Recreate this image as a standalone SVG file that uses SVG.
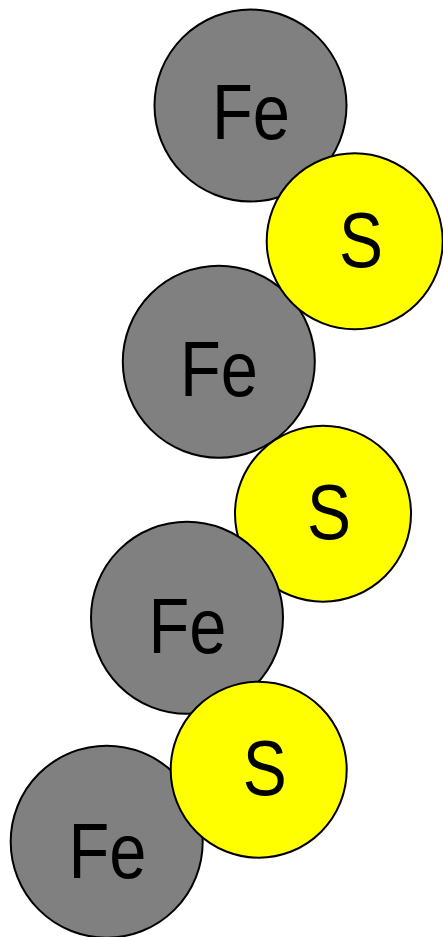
<svg xmlns="http://www.w3.org/2000/svg" width="443" height="937" viewBox="0 0 443 937">
<style>
.fe{fill:#808080;stroke:#000;stroke-width:2}
.s{fill:#ffff00;stroke:#000;stroke-width:2}
text{font-family:"Liberation Sans","DejaVu Sans",sans-serif;font-size:78px;fill:#000;text-anchor:middle}
</style>
<rect width="443" height="937" fill="#fff"/>
<g id="fe1"><circle class="fe" cx="250.5" cy="105.5" r="96"/><text x="251" y="139" textLength="78" lengthAdjust="spacingAndGlyphs">Fe</text></g>
<g id="fe2"><circle class="fe" cx="218.8" cy="361.7" r="96"/><text x="219" y="396" textLength="78" lengthAdjust="spacingAndGlyphs">Fe</text></g>
<g id="s1"><circle class="s" cx="354.7" cy="241.3" r="88"/><text x="361" y="267" textLength="44" lengthAdjust="spacingAndGlyphs">S</text></g>
<g id="s2"><circle class="s" cx="323" cy="513.7" r="88"/><text x="329" y="539" textLength="44" lengthAdjust="spacingAndGlyphs">S</text></g>
<g id="fe3"><circle class="fe" cx="187" cy="617.8" r="96"/><text x="187.5" y="652.5" textLength="78" lengthAdjust="spacingAndGlyphs">Fe</text></g>
<g id="fe4"><circle class="fe" cx="106.7" cy="841.7" r="96"/><text x="107.5" y="877.5" textLength="78" lengthAdjust="spacingAndGlyphs">Fe</text></g>
<g id="s3"><circle class="s" cx="258.7" cy="769.7" r="88"/><text x="264.7" y="795" textLength="44" lengthAdjust="spacingAndGlyphs">S</text></g>
<g id="connectors"></g>
</svg>
